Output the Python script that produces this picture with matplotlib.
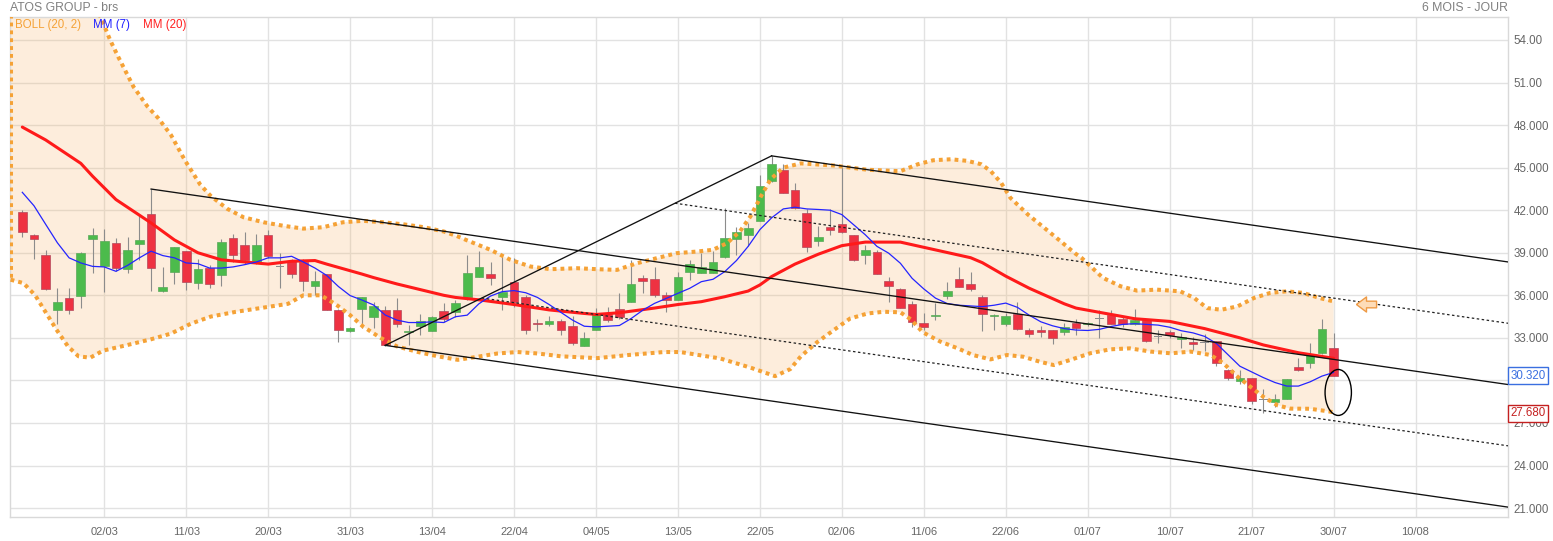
import numpy as np
import matplotlib.pyplot as plt
from matplotlib.patches import Ellipse
from matplotlib.path import Path
import matplotlib.transforms as mtransforms

plt.rcParams['font.family'] = ['Liberation Sans', 'DejaVu Sans']

# daily candles (index 0 = first session shown)
opens = [41.88, 40.25, 38.82, 34.96, 35.84, 35.98, 39.94, 38.07, 39.68, 37.83,
         39.65, 41.74, 36.27, 37.62, 39.11, 36.88, 37.92, 37.45, 40.03, 39.54,
         38.28, 40.25, 38.04, 38.45, 38.35, 36.67, 37.50, 34.99, 33.47, 35.03,
         34.49, 34.96, 34.96, 33.42, 33.85, 33.47, 34.91, 34.80, 35.90, 37.32,
         37.48, 35.85, 36.96, 35.85, 34.02, 33.96, 34.20, 33.84, 32.43, 33.58,
         34.67, 35.05, 35.55, 37.25, 37.18, 36.04, 35.66, 37.67, 37.60, 37.60,
         38.67, 39.99, 40.27, 41.27, 44.03, 44.84, 43.42, 41.79, 39.85, 40.82,
         41.03, 40.23, 38.81, 39.04, 36.99, 36.47, 35.41, 34.04, 34.51, 35.98,
         37.16, 36.78, 35.88, 34.56, 33.99, 34.70, 33.56, 33.52, 33.56, 33.38,
         34.04, 33.95, 34.35, 34.58, 34.35, 33.99, 34.27, 33.09, 33.38, 32.90,
         32.74, 32.67, 32.78, 30.75, 29.95, 30.18, 28.65, 28.48, 28.70, 30.96,
         31.25, 31.91, 32.26]
highs = [42.02, 40.34, 39.16, 36.50, 36.50, 39.05, 40.77, 40.70, 40.06, 40.13,
         41.67, 43.49, 38.00, 39.42, 39.15, 38.56, 38.11, 39.94, 40.29, 40.48,
         40.29, 40.60, 38.99, 38.56, 38.56, 37.69, 37.52, 35.03, 33.75, 35.88,
         35.55, 35.27, 35.79, 33.94, 34.65, 34.52, 35.44, 35.66, 38.86, 39.09,
         38.34, 38.74, 38.62, 36.02, 34.32, 34.55, 34.36, 34.53, 33.42, 35.07,
         35.14, 36.14, 38.50, 37.44, 38.03, 36.26, 37.67, 38.50, 38.97, 39.09,
         42.17, 40.82, 41.10, 44.46, 45.83, 45.24, 43.94, 42.05, 40.91, 42.05,
         45.07, 40.25, 39.57, 39.21, 37.32, 36.52, 35.62, 34.75, 35.46, 36.92,
         38.01, 37.63, 36.05, 34.65, 34.75, 35.50, 33.68, 33.85, 33.58, 34.04,
         34.32, 34.15, 34.98, 34.94, 34.46, 35.03, 34.29, 33.52, 33.52, 33.33,
         33.09, 33.26, 32.80, 30.77, 30.73, 30.20, 29.36, 29.07, 30.09, 31.56,
         32.67, 34.35, 33.33]
lows = [40.13, 38.59, 36.38, 34.01, 34.65, 35.13, 37.57, 36.22, 37.69, 37.57,
        38.52, 36.27, 36.25, 36.81, 36.38, 36.45, 36.50, 36.67, 38.35, 38.21,
        38.21, 38.64, 36.50, 37.21, 36.27, 36.03, 34.97, 32.71, 33.42, 33.66,
        33.66, 32.45, 33.78, 32.47, 33.18, 33.45, 34.13, 34.48, 35.66, 37.30,
        36.73, 34.96, 35.19, 33.30, 33.49, 33.82, 33.23, 32.47, 32.41, 33.54,
        34.13, 34.36, 35.53, 36.14, 35.90, 34.84, 35.64, 37.08, 37.58, 37.58,
        38.65, 38.86, 39.45, 41.25, 44.00, 43.19, 42.10, 39.04, 39.45, 40.27,
        40.42, 38.45, 38.19, 37.51, 35.55, 35.10, 33.75, 33.52, 34.27, 35.76,
        36.57, 36.28, 33.45, 33.56, 33.85, 33.56, 33.09, 33.09, 32.57, 33.21,
        33.21, 33.85, 32.97, 33.97, 33.80, 33.92, 32.74, 32.62, 32.97, 32.26,
        32.15, 32.10, 31.04, 30.02, 29.78, 28.36, 27.68, 28.13, 28.68, 30.68,
        30.85, 31.89, 30.30]
closes = [40.46, 39.94, 36.41, 35.55, 34.96, 38.97, 40.25, 39.82, 37.92, 39.18,
          39.89, 37.90, 36.62, 39.39, 36.91, 37.83, 36.83, 39.77, 38.87, 38.52,
          39.54, 38.80, 38.04, 37.52, 36.98, 36.98, 34.99, 33.56, 33.71, 35.86,
          35.22, 32.47, 33.97, 33.49, 34.18, 34.49, 34.35, 35.44, 37.56, 38.03,
          37.25, 36.26, 35.55, 33.58, 33.95, 34.20, 33.58, 32.64, 33.02, 34.72,
          34.29, 34.48, 36.78, 37.04, 36.04, 35.66, 37.32, 38.19, 37.96, 38.34,
          40.04, 40.44, 40.75, 43.73, 45.29, 43.21, 42.12, 39.42, 40.09, 40.58,
          40.44, 38.50, 39.19, 37.53, 36.68, 35.12, 34.09, 33.80, 34.63, 36.28,
          36.59, 36.45, 34.70, 34.63, 34.51, 33.61, 33.28, 33.38, 33.02, 33.75,
          33.66, 34.05, 34.35, 34.01, 33.97, 34.27, 32.81, 33.09, 33.19, 33.04,
          32.60, 32.67, 31.25, 30.14, 30.18, 28.58, 28.65, 28.72, 30.07, 30.73,
          31.86, 33.61, 30.32]

# MM (7), one value per candle
ma7 = [43.26, 42.31, 41.00, 39.70, 38.64, 38.28, 38.04, 38.00, 37.69, 38.11,
       38.64, 39.11, 38.80, 38.64, 38.28, 38.23, 37.92, 37.92, 38.00, 38.16,
       38.35, 38.64, 38.64, 38.75, 38.35, 37.92, 37.40, 36.62, 35.98, 35.67,
       35.32, 34.61, 34.25, 34.08, 34.08, 34.13, 34.08, 34.49, 34.60, 35.40,
       35.95, 36.26, 36.33, 36.18, 35.85, 35.35, 34.80, 34.25, 33.82, 33.77,
       33.82, 33.87, 34.36, 34.95, 35.43, 35.78, 36.14, 36.49, 36.96, 37.13,
       37.67, 38.45, 39.45, 40.63, 41.46, 42.09, 42.21, 42.09, 42.05, 42.00,
       41.69, 40.98, 40.27, 39.45, 38.97, 38.26, 37.20, 36.45, 35.80, 35.42,
       35.30, 35.25, 35.20, 35.30, 35.45, 35.15, 34.60, 34.13, 33.85, 33.65,
       33.55, 33.52, 33.60, 33.80, 33.95, 34.00, 33.95, 33.90, 33.75, 33.50,
       33.35, 33.10, 32.60, 31.80, 31.00, 30.60, 30.20, 29.85, 29.60, 29.60,
       29.90, 30.30, 30.56]

# MM (20), read at selected candles
ma20_idx = [0, 2, 3, 5, 6, 8, 11, 13, 15, 17, 19, 21, 23, 25, 26, 29, 30, 32, 34, 36,
            37, 39, 42, 45, 48, 49, 51, 54, 56, 58, 60, 62, 63, 64, 66, 68, 70, 72, 75, 78,
            81, 82, 84, 86, 89, 90, 92, 95, 98, 101, 104, 106, 109, 112]
ma20_val = [47.86, 46.95, 46.40, 45.30, 44.40, 42.75, 41.10, 39.90, 39.00, 38.50,
            38.35, 38.20, 38.40, 38.45, 38.20, 37.50, 37.25, 36.80, 36.40, 36.00,
            35.85, 35.68, 35.35, 34.97, 34.72, 34.65, 34.77, 35.10, 35.35, 35.55,
            35.90, 36.30, 36.73, 37.32, 38.20, 38.90, 39.50, 39.75, 39.75, 39.20,
            38.65, 38.30, 37.35, 36.50, 35.40, 35.10, 34.80, 34.35, 34.16, 33.65,
            33.00, 32.50, 31.95, 31.56]

# BOLL (20, 2) upper / lower bands
boll_up_idx = [-1, 0, 2, 4, 6, 6.7, 7.5, 8.2, 9.5, 10.7, 11.6, 12.7, 13.9, 15.2, 16.1,
               17.5, 18.9, 20.6, 22.3, 24, 25.7, 27.4, 29.1, 30.8, 32.6, 34.3, 36, 37.2,
               38, 40, 41.7, 43.4, 45.1, 47.4, 49.1, 50.8, 52.5, 54.2, 55.9, 57.7, 59,
               60.2, 61.3, 62.2, 63.1, 63.9, 65, 66.5, 69.3, 72.2, 75, 76.5, 77.8, 79.3,
               80.7, 81.9, 82.7, 83.6, 84.4, 85.9, 87.3, 88.7, 89.9, 90.5, 92.3, 93.8,
               95.2, 96.9, 98.9, 100.1, 101.2, 102.4, 103.8, 105.2, 106.6, 108, 109.4,
               110.8, 112]
boll_up_val = [59.5, 58.9, 59.0, 59.5, 57.0, 55.6, 54.0, 52.8, 50.7, 49.3, 48.5, 47.3,
               45.5, 43.8, 43.0, 42.1, 41.5, 41.15, 40.9, 40.7, 40.8, 41.15, 41.25,
               41.15, 41.0, 40.8, 40.5, 40.15, 39.87, 39.2, 38.5, 38.03, 37.84, 37.91,
               37.84, 37.79, 38.26, 38.62, 38.97, 39.09, 39.21, 39.68, 40.51, 41.57,
               42.99, 44.17, 45.0, 45.3, 45.15, 44.85, 44.75, 45.24, 45.52, 45.59, 45.48,
               45.24, 44.77, 43.94, 42.87, 41.69, 40.75, 39.8, 38.97, 38.62, 37.23,
               36.64, 36.33, 36.4, 36.28, 35.81, 35.1, 34.98, 35.22, 35.81, 36.17,
               36.28, 36.17, 35.81, 35.57]
boll_lo_idx = [-1, 0.1, 1.1, 2, 2.9, 3.9, 4.8, 5.8, 6.9, 9, 11, 12.7, 14.4, 16.1, 18.2,
               20.5, 22.7, 24, 25.5, 26.8, 28, 29.1, 30.6, 32, 33.8, 35.5, 37.2, 38.9,
               40.6, 42.3, 44, 46, 49.1, 51.9, 54.8, 56.2, 57.7, 59.6, 62.2, 64.3, 65.6,
               66.5, 67.9, 69.3, 70.7, 72.2, 73.6, 75, 75.9, 76.9, 78.4, 79.9, 81.2,
               82.7, 84.1, 85.5, 86.9, 88.1, 89.5, 91.2, 92.9, 94.6, 96.4, 98.1, 99.8,
               101.5, 102.6, 103.8, 104.9, 106, 107.2, 108.3, 110, 111.7, 112]
boll_lo_val = [37.1, 36.86, 36.0, 34.8, 33.6, 32.4, 31.7, 31.6, 32.1, 32.5, 32.9, 33.3,
               34.0, 34.5, 34.83, 35.12, 35.4, 36.0, 36.0, 35.35, 34.6, 33.8, 33.0,
               32.4, 32.0, 31.7, 31.45, 31.67, 31.9, 32.0, 31.9, 31.7, 31.57, 31.8,
               32.0, 32.0, 31.8, 31.55, 30.9, 30.3, 30.8, 31.7, 32.7, 33.54, 34.36,
               34.72, 34.84, 34.8, 34.3, 33.4, 32.74, 32.26, 31.79, 31.48, 31.79, 31.67,
               31.32, 31.08, 31.44, 31.91, 32.19, 32.26, 32.03, 31.91, 32.03, 31.79,
               31.2, 30.26, 29.55, 28.84, 28.25, 28.01, 28.0, 27.8, 27.75]

# pitchfork anchors: pivot high, swing high, swing low
fork_idx = [11, 64, 31]
fork_val = [43.49, 45.83, 32.47]

period_low = 27.68
date_labels = ['02/03', '11/03', '20/03', '31/03', '13/04', '22/04', '04/05', '13/05',
               '22/05', '02/06', '11/06', '22/06', '01/07', '10/07', '21/07', '30/07',
               '10/08']
ytick_vals = [21, 24, 27, 30, 33, 36, 39, 42, 45, 48, 51, 54]
# 30.000 sits under the last-price tag in the original, so it is left blank
ytick_text = ['21.000', '24.000', '27.000', '', '33.000', '36.000', '39.000',
              '42.000', '45.000', '48.000', '51.00', '54.00']

W, H = 1553, 541
fig = plt.figure(figsize=(W / 100, H / 100), dpi=100)
ax = fig.add_axes([10 / W, 24 / H, 1498 / W, 500 / H])
x_left, x_right = -1.05, 126.9
ax.set_xlim(x_left, x_right)
ax.set_ylim(20.37, 55.62)

# grid
ax.set_yticks(ytick_vals)
ax.set_yticklabels(ytick_text)
ax.set_xticks([7 * (k + 1) for k in range(len(date_labels))])
ax.set_xticklabels(date_labels)
ax.grid(True, color='#e2e2e2', lw=1.0, zorder=0)
ax.set_axisbelow(True)
for s in ax.spines.values():
    s.set_color('#d9d9d9')
    s.set_linewidth(1.0)
ax.yaxis.tick_right()
ax.tick_params(axis='y', length=0, pad=4, labelsize=8.3, labelcolor='#666666')
ax.tick_params(axis='x', length=0, pad=7, labelsize=8, labelcolor='#666666')

# bollinger fill + bands
orange = '#f5a236'
ax.fill(np.concatenate([boll_up_idx, boll_lo_idx[::-1]]),
        np.concatenate([boll_up_val, boll_lo_val[::-1]]),
        color='#f7b060', alpha=0.22, lw=0, zorder=1)

# candles
idx = np.arange(len(closes))
o = np.array(opens); c = np.array(closes)
ax.vlines(idx, lows, highs, color='#8c8c8c', lw=0.8, zorder=2)
up = c > o
down = c < o
flat = c == o
ax.bar(idx[up], (c - o)[up], bottom=o[up], width=0.74, color='#4cbb4c',
       edgecolor='#5aa75a', lw=0.5, zorder=3)
ax.bar(idx[down], (o - c)[down], bottom=c[down], width=0.74, color='#ee3242',
       edgecolor='#b24a5c', lw=0.5, zorder=3)
ax.bar(idx[flat], 0.07, bottom=c[flat] - 0.035, width=0.74, color='#8c8c8c',
       lw=0, zorder=3)

# moving averages
ax.plot(ma20_idx, ma20_val, color='#ff1a1a', lw=2.2, zorder=4, solid_capstyle='round')
ax.plot(idx, ma7, color='#2424ff', lw=0.9, zorder=4)

dots = dict(color=orange, lw=2.9, ls=(0, (0.95, 1.0)), dash_capstyle='butt', zorder=5)
ax.plot(boll_up_idx, boll_up_val, **dots)
ax.plot(boll_lo_idx, boll_lo_val, **dots)
ax.plot([boll_up_idx[0], boll_lo_idx[0]], [boll_up_val[0], boll_lo_val[0]], **dots)

# Andrews pitchfork
p1 = np.array([fork_idx[0], fork_val[0]])
p2 = np.array([fork_idx[1], fork_val[1]])
p3 = np.array([fork_idx[2], fork_val[2]])
mid = (p2 + p3) / 2
slope = (mid[1] - p1[1]) / (mid[0] - p1[0])


def ray(p, **kw):
    ax.plot([p[0], x_right], [p[1], p[1] + slope * (x_right - p[0])], zorder=6, **kw)


solid = dict(color='#111111', lw=0.95)
dotted = dict(color='#222222', lw=0.9, ls=(0, (2, 2)))
ray(p1, **solid)
ray(p2, **solid)
ray(p3, **solid)
ray((mid + p2) / 2, **dotted)
ray((mid + p3) / 2, **dotted)
ax.plot([p3[0], p2[0]], [p3[1], p2[1]], zorder=6, **solid)

# ellipse around the last session
last = idx[-1]
ax.add_patch(Ellipse((last + 0.4, (closes[-1] + period_low) / 2 + 0.15), 2.25,
                     closes[-1] - period_low + 0.6, fill=False, ec='black', lw=1.0,
                     zorder=7))

# arrow marker next to the upper band
arrow = Path([(-1, 0), (0, 0.75), (0, 0.33), (1, 0.33), (1, -0.33), (0, -0.33),
              (0, -0.75), (-1, 0)])
ax.plot([last + 2.75], [boll_up_val[-1] - 0.17], marker=arrow, ms=14.5, mfc='#fddcb8',
        mec='#ee9a45', mew=1.0, ls='none', zorder=7, clip_on=False)

# value tags on the price scale
tr = mtransforms.blended_transform_factory(ax.transAxes, ax.transData)
for val, col in [(closes[-1], '#3a6fe0'), (period_low, '#c42020')]:
    ax.text(1.0018, val, f'{val:.3f}', transform=tr, ha='left', va='center',
            fontsize=8.3, color=col, zorder=10, clip_on=False,
            bbox=dict(boxstyle='square,pad=0.22', fc='white', ec=col, lw=1.0))

# titles and legend
fig.text(10 / W, 1 - 8 / H, 'ATOS GROUP - brs', ha='left', va='center', fontsize=8.8,
         color='#808080')
fig.text(1508 / W, 1 - 8 / H, '6 MOIS - JOUR', ha='right', va='center', fontsize=8.8,
         color='#808080')
for xpx, txt, col in [(15, 'BOLL (20, 2)', orange), (93, 'MM (7)', '#2020ff'),
                      (143, 'MM (20)', '#ff2020')]:
    fig.text(xpx / W, 1 - 25 / H, txt, ha='left', va='center', fontsize=8.3, color=col)

fig.savefig('out.png', dpi=100)
